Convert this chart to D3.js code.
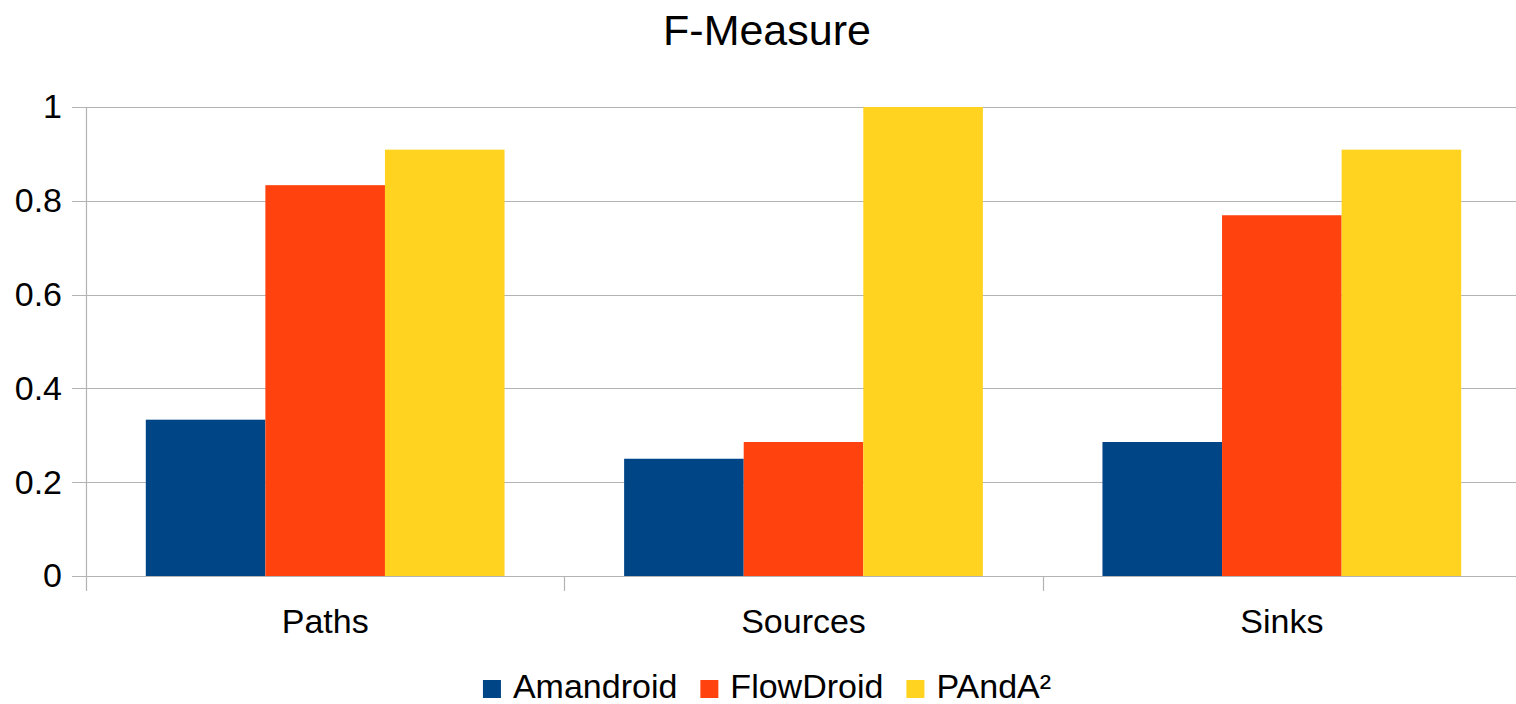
<!DOCTYPE html>
<html>
<head>
<meta charset="utf-8">
<script src="https://cdn.jsdelivr.net/npm/d3@7"></script>
<style>
  html, body { margin: 0; padding: 0; background: #fff; }
  svg { display: block; font-family: "Liberation Sans", Arial, sans-serif; }
</style>
</head>
<body>
<svg id="chart" width="1516" height="704"></svg>
<script>
// Categories and F-measure values per tool
const categories = ["Paths", "Sources", "Sinks"];
const seriesNames = ["Amandroid", "FlowDroid", "PAndA²"];
const amandroid = [0.3333, 0.25, 0.2857];
const flowdroid = [0.8333, 0.2857, 0.7692];
const panda2 = [0.9091, 1.0, 0.9091];
const yTicks = [0, 0.2, 0.4, 0.6, 0.8, 1];
const yTickLabels = ["0", "0.2", "0.4", "0.6", "0.8", "1"];
const colors = ["#004586", "#ff420e", "#ffd320"];

const seriesValues = [amandroid, flowdroid, panda2];
const rows = categories.map((c, i) => ({
  category: c,
  values: seriesNames.map((s, j) => ({ series: s, value: seriesValues[j][i], color: colors[j] }))
}));

const svg = d3.select("#chart");
const plotLeft = 86, plotRight = 1521, plotTop = 107, plotBottom = 576;
const labelSize = 34;

const x0 = d3.scaleBand().domain(categories).range([plotLeft, plotRight]).paddingInner(0).paddingOuter(0);
const x1 = d3.scaleBand().domain(seriesNames).range([0, x0.bandwidth()]).paddingInner(0).paddingOuter(0.5);
const y = d3.scaleLinear().domain([0, 1]).range([plotBottom, plotTop]);

const gridColor = "#b3b3b3";

// Title
svg.append("text")
  .attr("x", 767).attr("y", 45)
  .attr("text-anchor", "middle")
  .attr("font-size", 43)
  .attr("fill", "#000")
  .text("F-Measure");

// Horizontal gridlines with short ticks to the left of the axis
const grid = svg.append("g");
grid.selectAll("line").data(yTicks).join("line")
  .attr("x1", plotLeft - 14).attr("x2", plotRight)
  .attr("y1", d => Math.round(y(d)) + 0.5).attr("y2", d => Math.round(y(d)) + 0.5)
  .attr("stroke", gridColor).attr("stroke-width", 1.2);

// Y axis labels
const yAxis = d3.axisLeft(y).tickValues(yTicks)
  .tickFormat((d, i) => yTickLabels[i]).tickSize(0).tickPadding(24);
const gy = svg.append("g").attr("transform", `translate(${plotLeft},0)`).call(yAxis);
gy.select(".domain").remove();
gy.selectAll("text").attr("font-size", labelSize).attr("fill", "#000")
  .attr("font-family", "Liberation Sans, Arial, sans-serif");

// Bars
const groups = svg.append("g").selectAll("g").data(rows).join("g")
  .attr("transform", d => `translate(${x0(d.category)},0)`);
groups.selectAll("rect").data(d => d.values).join("rect")
  .attr("x", d => x1(d.series))
  .attr("width", x1.bandwidth())
  .attr("y", d => y(d.value))
  .attr("height", d => y(0) - y(d.value))
  .attr("fill", d => d.color);

// Axis lines
svg.append("line")
  .attr("x1", plotLeft + 0.5).attr("x2", plotLeft + 0.5)
  .attr("y1", plotTop).attr("y2", plotBottom + 15)
  .attr("stroke", gridColor).attr("stroke-width", 1.2);
svg.append("line")
  .attr("x1", plotLeft).attr("x2", plotRight)
  .attr("y1", plotBottom + 0.5).attr("y2", plotBottom + 0.5)
  .attr("stroke", gridColor).attr("stroke-width", 1.2);

// Category separators and labels
const xAxis = d3.axisBottom(x0).tickSize(0).tickPadding(0);
const gx = svg.append("g").attr("transform", `translate(0,${plotBottom})`).call(xAxis);
gx.select(".domain").remove();
gx.selectAll("text")
  .attr("font-size", labelSize).attr("fill", "#000")
  .attr("font-family", "Liberation Sans, Arial, sans-serif")
  .attr("dy", null).attr("y", 57);
svg.append("g").selectAll("line").data(categories.slice(1)).join("line")
  .attr("x1", d => Math.round(x0(d)) + 0.5).attr("x2", d => Math.round(x0(d)) + 0.5)
  .attr("y1", plotBottom).attr("y2", plotBottom + 15)
  .attr("stroke", gridColor).attr("stroke-width", 1.2);

// Legend
const legend = svg.append("g");
const items = legend.selectAll("g").data(seriesNames).join("g");
items.append("rect").attr("width", 18).attr("height", 18)
  .attr("y", -18).attr("fill", (d, i) => colors[i]);
items.append("text").attr("x", 30).attr("y", 0)
  .attr("font-size", labelSize).attr("fill", "#000").text(d => d);
let cursor = 0;
const gap = 23;
items.each(function() {
  const g = d3.select(this);
  g.attr("transform", `translate(${cursor},0)`);
  const w = 30 + g.select("text").node().getComputedTextLength();
  cursor += w + gap;
});
const legendWidth = cursor - gap;
legend.attr("transform", `translate(${767 - legendWidth / 2},698)`);
</script>
</body>
</html>
